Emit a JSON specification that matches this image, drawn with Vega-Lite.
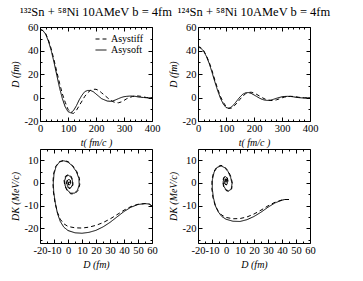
{
  "$schema": "https://vega.github.io/schema/vega-lite/v6.json",
  "padding": {"left": 9, "top": 5, "right": 5, "bottom": 5},
  "background": "white",
  "columns": 2,
  "spacing": {"row": 28, "column": 46},
  "bounds": "flush",
  "config": {
    "font": "Liberation Serif",
    "view": {"stroke": "black", "strokeWidth": 1},
    "axis": {"domain": false, "grid": false, "tickColor": "black", "tickSize": -4, "labelColor": "black", "labelFont": "Liberation Serif", "labelFontSize": 10.5, "labelPadding": 6, "labelFlush": false, "labelOverlap": false, "labelExpr": "'' + datum.value", "titleFont": "Liberation Serif", "titleFontStyle": "italic", "titleFontWeight": "normal", "titleFontSize": 10, "titleColor": "black"},
    "title": {"font": "Liberation Serif", "fontSize": 12.5, "fontWeight": "normal", "color": "black", "offset": 4},
    "legend": {"title": null, "symbolType": "stroke", "symbolStrokeColor": "black", "symbolStrokeWidth": 1, "symbolSize": 120, "labelFont": "Liberation Serif", "labelFontSize": 10, "labelColor": "black", "rowPadding": 0, "labelOffset": 4},
    "line": {"color": "black", "strokeWidth": 1}
  },
  "datasets": {
    "tl": [
      {"t":0,"D":58,"m":"Asysoft"},{"t":10,"D":57,"m":"Asysoft"},{"t":20,"D":54,"m":"Asysoft"},{"t":30,"D":48,"m":"Asysoft"},{"t":40,"D":40,"m":"Asysoft"},{"t":50,"D":30,"m":"Asysoft"},{"t":60,"D":19,"m":"Asysoft"},{"t":70,"D":8,"m":"Asysoft"},{"t":80,"D":-1,"m":"Asysoft"},{"t":90,"D":-8,"m":"Asysoft"},{"t":100,"D":-12,"m":"Asysoft"},{"t":110,"D":-13,"m":"Asysoft"},{"t":120,"D":-11,"m":"Asysoft"},{"t":130,"D":-7,"m":"Asysoft"},{"t":140,"D":-2,"m":"Asysoft"},{"t":150,"D":2,"m":"Asysoft"},{"t":160,"D":5,"m":"Asysoft"},{"t":170,"D":6,"m":"Asysoft"},{"t":180,"D":6,"m":"Asysoft"},{"t":190,"D":5,"m":"Asysoft"},{"t":200,"D":3,"m":"Asysoft"},{"t":210,"D":1,"m":"Asysoft"},{"t":220,"D":-1,"m":"Asysoft"},{"t":230,"D":-2,"m":"Asysoft"},{"t":240,"D":-3,"m":"Asysoft"},{"t":250,"D":-3.2,"m":"Asysoft"},{"t":260,"D":-3,"m":"Asysoft"},{"t":270,"D":-2,"m":"Asysoft"},{"t":280,"D":-1,"m":"Asysoft"},{"t":290,"D":0,"m":"Asysoft"},{"t":300,"D":0.7,"m":"Asysoft"},{"t":310,"D":1,"m":"Asysoft"},{"t":320,"D":1.2,"m":"Asysoft"},{"t":330,"D":1.2,"m":"Asysoft"},{"t":340,"D":1,"m":"Asysoft"},{"t":350,"D":0.5,"m":"Asysoft"},{"t":360,"D":0.2,"m":"Asysoft"},{"t":370,"D":0,"m":"Asysoft"},{"t":380,"D":-0.2,"m":"Asysoft"},{"t":390,"D":-0.3,"m":"Asysoft"},{"t":400,"D":-0.2,"m":"Asysoft"},
      {"t":0,"D":58,"m":"Asystiff"},{"t":10,"D":57,"m":"Asystiff"},{"t":20,"D":54.5,"m":"Asystiff"},{"t":30,"D":49,"m":"Asystiff"},{"t":40,"D":41.5,"m":"Asystiff"},{"t":50,"D":32,"m":"Asystiff"},{"t":60,"D":22,"m":"Asystiff"},{"t":70,"D":12,"m":"Asystiff"},{"t":80,"D":3,"m":"Asystiff"},{"t":90,"D":-4,"m":"Asystiff"},{"t":100,"D":-10,"m":"Asystiff"},{"t":110,"D":-13,"m":"Asystiff"},{"t":120,"D":-13.5,"m":"Asystiff"},{"t":130,"D":-11,"m":"Asystiff"},{"t":140,"D":-7,"m":"Asystiff"},{"t":150,"D":-3,"m":"Asystiff"},{"t":160,"D":1,"m":"Asystiff"},{"t":170,"D":4,"m":"Asystiff"},{"t":180,"D":6,"m":"Asystiff"},{"t":190,"D":7,"m":"Asystiff"},{"t":200,"D":7,"m":"Asystiff"},{"t":210,"D":6,"m":"Asystiff"},{"t":220,"D":4,"m":"Asystiff"},{"t":230,"D":2,"m":"Asystiff"},{"t":240,"D":0,"m":"Asystiff"},{"t":250,"D":-2,"m":"Asystiff"},{"t":260,"D":-3.5,"m":"Asystiff"},{"t":270,"D":-4.3,"m":"Asystiff"},{"t":280,"D":-4.5,"m":"Asystiff"},{"t":290,"D":-3.8,"m":"Asystiff"},{"t":300,"D":-2.5,"m":"Asystiff"},{"t":310,"D":-1,"m":"Asystiff"},{"t":320,"D":0,"m":"Asystiff"},{"t":330,"D":0.8,"m":"Asystiff"},{"t":340,"D":1.3,"m":"Asystiff"},{"t":350,"D":1.3,"m":"Asystiff"},{"t":360,"D":1,"m":"Asystiff"},{"t":370,"D":0.5,"m":"Asystiff"},{"t":380,"D":0,"m":"Asystiff"},{"t":390,"D":-0.3,"m":"Asystiff"},{"t":400,"D":-0.4,"m":"Asystiff"}
    ],
    "tr": [
      {"t":0,"D":43,"m":"Asysoft"},{"t":10,"D":42,"m":"Asysoft"},{"t":20,"D":39.5,"m":"Asysoft"},{"t":30,"D":35,"m":"Asysoft"},{"t":40,"D":29,"m":"Asysoft"},{"t":50,"D":21.5,"m":"Asysoft"},{"t":60,"D":13.5,"m":"Asysoft"},{"t":70,"D":6,"m":"Asysoft"},{"t":80,"D":-0.5,"m":"Asysoft"},{"t":90,"D":-5.5,"m":"Asysoft"},{"t":100,"D":-8.5,"m":"Asysoft"},{"t":110,"D":-9.2,"m":"Asysoft"},{"t":120,"D":-8,"m":"Asysoft"},{"t":130,"D":-5.5,"m":"Asysoft"},{"t":140,"D":-2.5,"m":"Asysoft"},{"t":150,"D":0.5,"m":"Asysoft"},{"t":160,"D":2.8,"m":"Asysoft"},{"t":170,"D":4,"m":"Asysoft"},{"t":180,"D":4.2,"m":"Asysoft"},{"t":190,"D":3.5,"m":"Asysoft"},{"t":200,"D":2.2,"m":"Asysoft"},{"t":210,"D":0.8,"m":"Asysoft"},{"t":220,"D":-0.6,"m":"Asysoft"},{"t":230,"D":-1.7,"m":"Asysoft"},{"t":240,"D":-2.3,"m":"Asysoft"},{"t":250,"D":-2.5,"m":"Asysoft"},{"t":260,"D":-2.2,"m":"Asysoft"},{"t":270,"D":-1.5,"m":"Asysoft"},{"t":280,"D":-0.7,"m":"Asysoft"},{"t":290,"D":0,"m":"Asysoft"},{"t":300,"D":0.6,"m":"Asysoft"},{"t":310,"D":0.9,"m":"Asysoft"},{"t":320,"D":1,"m":"Asysoft"},{"t":330,"D":0.9,"m":"Asysoft"},{"t":340,"D":0.6,"m":"Asysoft"},{"t":350,"D":0.2,"m":"Asysoft"},{"t":360,"D":-0.1,"m":"Asysoft"},{"t":370,"D":-0.3,"m":"Asysoft"},{"t":380,"D":-0.4,"m":"Asysoft"},{"t":390,"D":-0.3,"m":"Asysoft"},{"t":400,"D":-0.2,"m":"Asysoft"},
      {"t":0,"D":43.5,"m":"Asystiff"},{"t":10,"D":42.5,"m":"Asystiff"},{"t":20,"D":40,"m":"Asystiff"},{"t":30,"D":35.5,"m":"Asystiff"},{"t":40,"D":30,"m":"Asystiff"},{"t":50,"D":23,"m":"Asystiff"},{"t":60,"D":15,"m":"Asystiff"},{"t":70,"D":7.5,"m":"Asystiff"},{"t":80,"D":1,"m":"Asystiff"},{"t":90,"D":-4,"m":"Asystiff"},{"t":100,"D":-7.5,"m":"Asystiff"},{"t":110,"D":-9.3,"m":"Asystiff"},{"t":120,"D":-9,"m":"Asystiff"},{"t":130,"D":-7,"m":"Asystiff"},{"t":140,"D":-4.5,"m":"Asystiff"},{"t":150,"D":-1.5,"m":"Asystiff"},{"t":160,"D":1.2,"m":"Asystiff"},{"t":170,"D":3.2,"m":"Asystiff"},{"t":180,"D":4.3,"m":"Asystiff"},{"t":190,"D":4.5,"m":"Asystiff"},{"t":200,"D":3.8,"m":"Asystiff"},{"t":210,"D":2.6,"m":"Asystiff"},{"t":220,"D":1.2,"m":"Asystiff"},{"t":230,"D":-0.2,"m":"Asystiff"},{"t":240,"D":-1.4,"m":"Asystiff"},{"t":250,"D":-2.2,"m":"Asystiff"},{"t":260,"D":-2.6,"m":"Asystiff"},{"t":270,"D":-2.5,"m":"Asystiff"},{"t":280,"D":-2,"m":"Asystiff"},{"t":290,"D":-1.2,"m":"Asystiff"},{"t":300,"D":-0.3,"m":"Asystiff"},{"t":310,"D":0.4,"m":"Asystiff"},{"t":320,"D":0.8,"m":"Asystiff"},{"t":330,"D":1,"m":"Asystiff"},{"t":340,"D":0.9,"m":"Asystiff"},{"t":350,"D":0.6,"m":"Asystiff"},{"t":360,"D":0.2,"m":"Asystiff"},{"t":370,"D":-0.1,"m":"Asystiff"},{"t":380,"D":-0.3,"m":"Asystiff"},{"t":390,"D":-0.4,"m":"Asystiff"},{"t":400,"D":-0.3,"m":"Asystiff"}
    ],
    "bl": [
      {"i":1,"D":60,"K":-10.2,"m":"Asysoft"},{"i":2,"D":58,"K":-9.3,"m":"Asysoft"},{"i":3,"D":55,"K":-9.1,"m":"Asysoft"},{"i":4,"D":50,"K":-9.5,"m":"Asysoft"},{"i":5,"D":45,"K":-10.7,"m":"Asysoft"},{"i":6,"D":40,"K":-12.6,"m":"Asysoft"},{"i":7,"D":35,"K":-15,"m":"Asysoft"},{"i":8,"D":30,"K":-17.4,"m":"Asysoft"},{"i":9,"D":25,"K":-19.4,"m":"Asysoft"},{"i":10,"D":20,"K":-20.9,"m":"Asysoft"},{"i":11,"D":15,"K":-21.8,"m":"Asysoft"},{"i":12,"D":10,"K":-22.2,"m":"Asysoft"},{"i":13,"D":5,"K":-22,"m":"Asysoft"},{"i":14,"D":0,"K":-21,"m":"Asysoft"},{"i":15,"D":-3,"K":-19.5,"m":"Asysoft"},{"i":16,"D":-5.5,"K":-17,"m":"Asysoft"},{"i":17,"D":-7.5,"K":-13.5,"m":"Asysoft"},{"i":18,"D":-9,"K":-9,"m":"Asysoft"},{"i":19,"D":-10.2,"K":-4,"m":"Asysoft"},{"i":20,"D":-10.5,"K":0,"m":"Asysoft"},{"i":21,"D":-10,"K":4,"m":"Asysoft"},{"i":22,"D":-8.5,"K":7.3,"m":"Asysoft"},{"i":23,"D":-6,"K":9.3,"m":"Asysoft"},{"i":24,"D":-3,"K":9.8,"m":"Asysoft"},{"i":25,"D":0,"K":9.2,"m":"Asysoft"},{"i":26,"D":3,"K":7.6,"m":"Asysoft"},{"i":27,"D":6,"K":5,"m":"Asysoft"},{"i":28,"D":7.8,"K":2,"m":"Asysoft"},{"i":29,"D":8,"K":-0.8,"m":"Asysoft"},{"i":30,"D":6.8,"K":-3.2,"m":"Asysoft"},{"i":31,"D":4.5,"K":-4.5,"m":"Asysoft"},{"i":32,"D":2,"K":-4.5,"m":"Asysoft"},{"i":33,"D":-0.3,"K":-3.3,"m":"Asysoft"},{"i":34,"D":-2,"K":-1.3,"m":"Asysoft"},{"i":35,"D":-2.4,"K":1,"m":"Asysoft"},{"i":36,"D":-1.5,"K":2.8,"m":"Asysoft"},{"i":37,"D":0.2,"K":3.4,"m":"Asysoft"},{"i":38,"D":2,"K":2.7,"m":"Asysoft"},{"i":39,"D":3.2,"K":1,"m":"Asysoft"},{"i":40,"D":3.2,"K":-0.8,"m":"Asysoft"},{"i":41,"D":2.2,"K":-2,"m":"Asysoft"},{"i":42,"D":0.8,"K":-2.2,"m":"Asysoft"},{"i":43,"D":-0.4,"K":-1.3,"m":"Asysoft"},{"i":44,"D":-0.8,"K":0,"m":"Asysoft"},{"i":45,"D":-0.3,"K":1.2,"m":"Asysoft"},{"i":46,"D":0.7,"K":1.6,"m":"Asysoft"},{"i":47,"D":1.6,"K":1,"m":"Asysoft"},{"i":48,"D":1.8,"K":-0.1,"m":"Asysoft"},{"i":49,"D":1.2,"K":-0.8,"m":"Asysoft"},{"i":50,"D":0.5,"K":-0.7,"m":"Asysoft"},{"i":51,"D":0.3,"K":0,"m":"Asysoft"},{"i":52,"D":0.8,"K":0.5,"m":"Asysoft"},{"i":53,"D":1.2,"K":0.1,"m":"Asysoft"},
      {"i":1,"D":60,"K":-10.2,"m":"Asystiff"},{"i":2,"D":58,"K":-9.3,"m":"Asystiff"},{"i":3,"D":55,"K":-9.1,"m":"Asystiff"},{"i":4,"D":50,"K":-9.4,"m":"Asystiff"},{"i":5,"D":45,"K":-10.4,"m":"Asystiff"},{"i":6,"D":40,"K":-12,"m":"Asystiff"},{"i":7,"D":35,"K":-14,"m":"Asystiff"},{"i":8,"D":30,"K":-15.9,"m":"Asystiff"},{"i":9,"D":25,"K":-17.5,"m":"Asystiff"},{"i":10,"D":20,"K":-18.7,"m":"Asystiff"},{"i":11,"D":15,"K":-19.5,"m":"Asystiff"},{"i":12,"D":10,"K":-19.9,"m":"Asystiff"},{"i":13,"D":5,"K":-19.8,"m":"Asystiff"},{"i":14,"D":0,"K":-19.2,"m":"Asystiff"},{"i":15,"D":-3,"K":-18,"m":"Asystiff"},{"i":16,"D":-5.5,"K":-16,"m":"Asystiff"},{"i":17,"D":-7.5,"K":-13,"m":"Asystiff"},{"i":18,"D":-9.2,"K":-9,"m":"Asystiff"},{"i":19,"D":-10.4,"K":-4,"m":"Asystiff"},{"i":20,"D":-10.8,"K":0,"m":"Asystiff"},{"i":21,"D":-10.3,"K":4,"m":"Asystiff"},{"i":22,"D":-8.8,"K":7.3,"m":"Asystiff"},{"i":23,"D":-6.2,"K":9.4,"m":"Asystiff"},{"i":24,"D":-3,"K":10,"m":"Asystiff"},{"i":25,"D":0.2,"K":9.4,"m":"Asystiff"},{"i":26,"D":3.3,"K":7.7,"m":"Asystiff"},{"i":27,"D":6.3,"K":5,"m":"Asystiff"},{"i":28,"D":8.2,"K":2,"m":"Asystiff"},{"i":29,"D":8.4,"K":-0.8,"m":"Asystiff"},{"i":30,"D":7.2,"K":-3.3,"m":"Asystiff"},{"i":31,"D":4.8,"K":-4.8,"m":"Asystiff"},{"i":32,"D":2,"K":-4.8,"m":"Asystiff"},{"i":33,"D":-0.5,"K":-3.5,"m":"Asystiff"},{"i":34,"D":-2.3,"K":-1.3,"m":"Asystiff"},{"i":35,"D":-2.8,"K":1.1,"m":"Asystiff"},{"i":36,"D":-1.8,"K":3,"m":"Asystiff"},{"i":37,"D":0.2,"K":3.7,"m":"Asystiff"},{"i":38,"D":2.2,"K":3,"m":"Asystiff"},{"i":39,"D":3.5,"K":1.1,"m":"Asystiff"},{"i":40,"D":3.5,"K":-0.9,"m":"Asystiff"},{"i":41,"D":2.4,"K":-2.2,"m":"Asystiff"},{"i":42,"D":0.8,"K":-2.5,"m":"Asystiff"},{"i":43,"D":-0.6,"K":-1.5,"m":"Asystiff"},{"i":44,"D":-1.1,"K":0,"m":"Asystiff"},{"i":45,"D":-0.5,"K":1.4,"m":"Asystiff"},{"i":46,"D":0.7,"K":1.8,"m":"Asystiff"},{"i":47,"D":1.8,"K":1.1,"m":"Asystiff"},{"i":48,"D":2,"K":-0.1,"m":"Asystiff"},{"i":49,"D":1.3,"K":-1,"m":"Asystiff"},{"i":50,"D":0.4,"K":-0.9,"m":"Asystiff"},{"i":51,"D":0.1,"K":0,"m":"Asystiff"},{"i":52,"D":0.7,"K":0.6,"m":"Asystiff"},{"i":53,"D":1.2,"K":0.1,"m":"Asystiff"}
    ],
    "br": [
      {"i":1,"D":45,"K":-7.3,"m":"Asysoft"},{"i":2,"D":42,"K":-7.3,"m":"Asysoft"},{"i":3,"D":40,"K":-7.6,"m":"Asysoft"},{"i":4,"D":35,"K":-8.8,"m":"Asysoft"},{"i":5,"D":30,"K":-10.7,"m":"Asysoft"},{"i":6,"D":25,"K":-12.9,"m":"Asysoft"},{"i":7,"D":20,"K":-14.8,"m":"Asysoft"},{"i":8,"D":15,"K":-16.2,"m":"Asysoft"},{"i":9,"D":10,"K":-17,"m":"Asysoft"},{"i":10,"D":5,"K":-16.9,"m":"Asysoft"},{"i":11,"D":0,"K":-16,"m":"Asysoft"},{"i":12,"D":-3,"K":-14.8,"m":"Asysoft"},{"i":13,"D":-5.5,"K":-12.8,"m":"Asysoft"},{"i":14,"D":-7.5,"K":-10.2,"m":"Asysoft"},{"i":15,"D":-9,"K":-6.5,"m":"Asysoft"},{"i":16,"D":-9.8,"K":-2.5,"m":"Asysoft"},{"i":17,"D":-9.7,"K":1.5,"m":"Asysoft"},{"i":18,"D":-8.5,"K":4.8,"m":"Asysoft"},{"i":19,"D":-6.3,"K":6.9,"m":"Asysoft"},{"i":20,"D":-3.5,"K":7.5,"m":"Asysoft"},{"i":21,"D":-1,"K":6.8,"m":"Asysoft"},{"i":22,"D":1.5,"K":5,"m":"Asysoft"},{"i":23,"D":3.3,"K":2.5,"m":"Asysoft"},{"i":24,"D":4.3,"K":-0.3,"m":"Asysoft"},{"i":25,"D":3.8,"K":-2.5,"m":"Asysoft"},{"i":26,"D":2,"K":-3.5,"m":"Asysoft"},{"i":27,"D":0,"K":-3,"m":"Asysoft"},{"i":28,"D":-1.5,"K":-1.5,"m":"Asysoft"},{"i":29,"D":-2,"K":0.5,"m":"Asysoft"},{"i":30,"D":-1.5,"K":2.2,"m":"Asysoft"},{"i":31,"D":-0.3,"K":2.8,"m":"Asysoft"},{"i":32,"D":0.8,"K":2.2,"m":"Asysoft"},{"i":33,"D":1.2,"K":0.8,"m":"Asysoft"},{"i":34,"D":0.8,"K":-0.5,"m":"Asysoft"},{"i":35,"D":0,"K":-0.8,"m":"Asysoft"},{"i":36,"D":-0.8,"K":-0.2,"m":"Asysoft"},{"i":37,"D":-1,"K":0.8,"m":"Asysoft"},{"i":38,"D":-0.5,"K":1.6,"m":"Asysoft"},{"i":39,"D":0.3,"K":1.6,"m":"Asysoft"},{"i":40,"D":0.6,"K":0.9,"m":"Asysoft"},{"i":41,"D":0.2,"K":0.3,"m":"Asysoft"},{"i":42,"D":-0.4,"K":0.6,"m":"Asysoft"},{"i":43,"D":-0.2,"K":1.2,"m":"Asysoft"},{"i":44,"D":0.2,"K":1,"m":"Asysoft"},
      {"i":1,"D":45,"K":-7.3,"m":"Asystiff"},{"i":2,"D":42,"K":-7.3,"m":"Asystiff"},{"i":3,"D":40,"K":-7.5,"m":"Asystiff"},{"i":4,"D":35,"K":-8.5,"m":"Asystiff"},{"i":5,"D":30,"K":-10.1,"m":"Asystiff"},{"i":6,"D":25,"K":-12,"m":"Asystiff"},{"i":7,"D":20,"K":-13.7,"m":"Asystiff"},{"i":8,"D":15,"K":-15,"m":"Asystiff"},{"i":9,"D":10,"K":-15.7,"m":"Asystiff"},{"i":10,"D":5,"K":-15.8,"m":"Asystiff"},{"i":11,"D":0,"K":-15.2,"m":"Asystiff"},{"i":12,"D":-3,"K":-14.2,"m":"Asystiff"},{"i":13,"D":-5.5,"K":-12.5,"m":"Asystiff"},{"i":14,"D":-7.7,"K":-10,"m":"Asystiff"},{"i":15,"D":-9.3,"K":-6.5,"m":"Asystiff"},{"i":16,"D":-10.1,"K":-2.5,"m":"Asystiff"},{"i":17,"D":-10,"K":1.5,"m":"Asystiff"},{"i":18,"D":-8.8,"K":4.9,"m":"Asystiff"},{"i":19,"D":-6.5,"K":7.1,"m":"Asystiff"},{"i":20,"D":-3.6,"K":7.8,"m":"Asystiff"},{"i":21,"D":-0.9,"K":7.1,"m":"Asystiff"},{"i":22,"D":1.7,"K":5.2,"m":"Asystiff"},{"i":23,"D":3.6,"K":2.6,"m":"Asystiff"},{"i":24,"D":4.6,"K":-0.3,"m":"Asystiff"},{"i":25,"D":4,"K":-2.7,"m":"Asystiff"},{"i":26,"D":2.1,"K":-3.8,"m":"Asystiff"},{"i":27,"D":0,"K":-3.3,"m":"Asystiff"},{"i":28,"D":-1.7,"K":-1.7,"m":"Asystiff"},{"i":29,"D":-2.3,"K":0.5,"m":"Asystiff"},{"i":30,"D":-1.7,"K":2.4,"m":"Asystiff"},{"i":31,"D":-0.3,"K":3,"m":"Asystiff"},{"i":32,"D":0.9,"K":2.4,"m":"Asystiff"},{"i":33,"D":1.4,"K":0.9,"m":"Asystiff"},{"i":34,"D":0.9,"K":-0.6,"m":"Asystiff"},{"i":35,"D":0,"K":-0.9,"m":"Asystiff"},{"i":36,"D":-0.9,"K":-0.2,"m":"Asystiff"},{"i":37,"D":-1.1,"K":0.9,"m":"Asystiff"},{"i":38,"D":-0.6,"K":1.7,"m":"Asystiff"},{"i":39,"D":0.3,"K":1.7,"m":"Asystiff"},{"i":40,"D":0.7,"K":1,"m":"Asystiff"},{"i":41,"D":0.2,"K":0.3,"m":"Asystiff"},{"i":42,"D":-0.4,"K":0.6,"m":"Asystiff"},{"i":43,"D":-0.2,"K":1.2,"m":"Asystiff"},{"i":44,"D":0.2,"K":1,"m":"Asystiff"}
    ]
  },
  "concat": [
    {
      "title": "¹³²Sn + ⁵⁸Ni  10AMeV  b = 4fm",
      "width": 112, "height": 94,
      "data": {"name": "tl"},
      "resolve": {"axis": {"x": "independent", "y": "independent"}},
      "layer": [
        {"mark": {"type": "line"},
         "encoding": {
           "x": {"field": "t", "type": "quantitative", "scale": {"domain": [0, 400], "nice": false}, "axis": {"orient": "bottom", "values": [0, 100, 200, 300, 400], "title": "t( fm/c )"}},
           "y": {"field": "D", "type": "quantitative", "scale": {"domain": [-20, 60], "nice": false}, "axis": {"orient": "left", "values": [-20, 0, 20, 40, 60], "title": "D (fm)"}},
           "strokeDash": {"field": "m", "type": "nominal", "scale": {"domain": ["Asystiff", "Asysoft"], "range": [[4, 3], [1, 0]]}, "legend": {"orient": "none", "legendX": 55, "legendY": 6}}
         }},
        {"mark": {"type": "line", "strokeOpacity": 0},
         "encoding": {"detail": {"field": "m"},
           "x": {"field": "t", "type": "quantitative", "axis": {"orient": "top", "values": [0, 100, 200, 300, 400], "labels": false, "title": null}},
           "y": {"field": "D", "type": "quantitative", "axis": {"orient": "right", "values": [-20, 0, 20, 40, 60], "labels": false, "title": null}}}},
        {"mark": {"type": "line", "strokeOpacity": 0},
         "encoding": {"detail": {"field": "m"},
           "x": {"field": "t", "type": "quantitative", "axis": {"orient": "bottom", "values": [20, 40, 60, 80, 120, 140, 160, 180, 220, 240, 260, 280, 320, 340, 360, 380], "labels": false, "title": null, "tickSize": -2}},
           "y": {"field": "D", "type": "quantitative", "axis": {"orient": "left", "values": [-10, 10, 30, 50], "labels": false, "title": null, "tickSize": -2}}}},
        {"mark": {"type": "line", "strokeOpacity": 0},
         "encoding": {"detail": {"field": "m"},
           "x": {"field": "t", "type": "quantitative", "axis": {"orient": "top", "values": [20, 40, 60, 80, 120, 140, 160, 180, 220, 240, 260, 280, 320, 340, 360, 380], "labels": false, "title": null, "tickSize": -2}},
           "y": {"field": "D", "type": "quantitative", "axis": {"orient": "right", "values": [-10, 10, 30, 50], "labels": false, "title": null, "tickSize": -2}}}}
      ]
    },
    {
      "title": "¹²⁴Sn + ⁵⁸Ni  10AMeV  b = 4fm",
      "width": 112, "height": 94,
      "data": {"name": "tr"},
      "resolve": {"axis": {"x": "independent", "y": "independent"}},
      "layer": [
        {"mark": {"type": "line"},
         "encoding": {
           "x": {"field": "t", "type": "quantitative", "scale": {"domain": [0, 400], "nice": false}, "axis": {"orient": "bottom", "values": [0, 100, 200, 300, 400], "title": "t( fm/c )"}},
           "y": {"field": "D", "type": "quantitative", "scale": {"domain": [-20, 60], "nice": false}, "axis": {"orient": "left", "values": [-20, 0, 20, 40, 60], "title": "D (fm)"}},
           "strokeDash": {"field": "m", "type": "nominal", "scale": {"domain": ["Asystiff", "Asysoft"], "range": [[4, 3], [1, 0]]}, "legend": {"orient": "none", "legendX": 55, "legendY": 6}}
         }},
        {"mark": {"type": "line", "strokeOpacity": 0},
         "encoding": {"detail": {"field": "m"},
           "x": {"field": "t", "type": "quantitative", "axis": {"orient": "top", "values": [0, 100, 200, 300, 400], "labels": false, "title": null}},
           "y": {"field": "D", "type": "quantitative", "axis": {"orient": "right", "values": [-20, 0, 20, 40, 60], "labels": false, "title": null}}}},
        {"mark": {"type": "line", "strokeOpacity": 0},
         "encoding": {"detail": {"field": "m"},
           "x": {"field": "t", "type": "quantitative", "axis": {"orient": "bottom", "values": [20, 40, 60, 80, 120, 140, 160, 180, 220, 240, 260, 280, 320, 340, 360, 380], "labels": false, "title": null, "tickSize": -2}},
           "y": {"field": "D", "type": "quantitative", "axis": {"orient": "left", "values": [-10, 10, 30, 50], "labels": false, "title": null, "tickSize": -2}}}},
        {"mark": {"type": "line", "strokeOpacity": 0},
         "encoding": {"detail": {"field": "m"},
           "x": {"field": "t", "type": "quantitative", "axis": {"orient": "top", "values": [20, 40, 60, 80, 120, 140, 160, 180, 220, 240, 260, 280, 320, 340, 360, 380], "labels": false, "title": null, "tickSize": -2}},
           "y": {"field": "D", "type": "quantitative", "axis": {"orient": "right", "values": [-10, 10, 30, 50], "labels": false, "title": null, "tickSize": -2}}}}
      ]
    },
    {
      "width": 112, "height": 94,
      "data": {"name": "bl"},
      "resolve": {"axis": {"x": "independent", "y": "independent"}},
      "layer": [
        {"mark": {"type": "line"},
         "encoding": {
           "x": {"field": "D", "type": "quantitative", "scale": {"domain": [-20, 60], "nice": false, "zero": false}, "axis": {"orient": "bottom", "values": [-20, -10, 0, 10, 20, 30, 40, 50, 60], "title": "D (fm)"}},
           "y": {"field": "K", "type": "quantitative", "scale": {"domain": [-26.5, 15], "nice": false, "zero": false}, "axis": {"orient": "left", "values": [-20, -10, 0, 10], "title": "DK (MeV/c)"}},
           "order": {"field": "i", "type": "quantitative"},
           "strokeDash": {"field": "m", "type": "nominal", "scale": {"domain": ["Asystiff", "Asysoft"], "range": [[4, 3], [1, 0]]}, "legend": null}
         }},
        {"mark": {"type": "line", "strokeOpacity": 0},
         "encoding": {"detail": {"field": "m"},
           "x": {"field": "D", "type": "quantitative", "axis": {"orient": "top", "values": [-20, -10, 0, 10, 20, 30, 40, 50, 60], "labels": false, "title": null}},
           "y": {"field": "K", "type": "quantitative", "axis": {"orient": "right", "values": [-20, -10, 0, 10], "labels": false, "title": null}}}},
        {"mark": {"type": "line", "strokeOpacity": 0},
         "encoding": {"detail": {"field": "m"},
           "x": {"field": "D", "type": "quantitative", "axis": {"orient": "bottom", "values": [-15, -5, 5, 15, 25, 35, 45, 55], "labels": false, "title": null, "tickSize": -2}},
           "y": {"field": "K", "type": "quantitative", "axis": {"orient": "left", "values": [-25, -15, -5, 5], "labels": false, "title": null, "tickSize": -2}}}},
        {"mark": {"type": "line", "strokeOpacity": 0},
         "encoding": {"detail": {"field": "m"},
           "x": {"field": "D", "type": "quantitative", "axis": {"orient": "top", "values": [-15, -5, 5, 15, 25, 35, 45, 55], "labels": false, "title": null, "tickSize": -2}},
           "y": {"field": "K", "type": "quantitative", "axis": {"orient": "right", "values": [-25, -15, -5, 5], "labels": false, "title": null, "tickSize": -2}}}}
      ]
    },
    {
      "width": 112, "height": 94,
      "data": {"name": "br"},
      "resolve": {"axis": {"x": "independent", "y": "independent"}},
      "layer": [
        {"mark": {"type": "line"},
         "encoding": {
           "x": {"field": "D", "type": "quantitative", "scale": {"domain": [-20, 60], "nice": false, "zero": false}, "axis": {"orient": "bottom", "values": [-20, -10, 0, 10, 20, 30, 40, 50, 60], "title": "D (fm)"}},
           "y": {"field": "K", "type": "quantitative", "scale": {"domain": [-26.5, 15], "nice": false, "zero": false}, "axis": {"orient": "left", "values": [-20, -10, 0, 10], "title": "DK (MeV/c)"}},
           "order": {"field": "i", "type": "quantitative"},
           "strokeDash": {"field": "m", "type": "nominal", "scale": {"domain": ["Asystiff", "Asysoft"], "range": [[4, 3], [1, 0]]}, "legend": null}
         }},
        {"mark": {"type": "line", "strokeOpacity": 0},
         "encoding": {"detail": {"field": "m"},
           "x": {"field": "D", "type": "quantitative", "axis": {"orient": "top", "values": [-20, -10, 0, 10, 20, 30, 40, 50, 60], "labels": false, "title": null}},
           "y": {"field": "K", "type": "quantitative", "axis": {"orient": "right", "values": [-20, -10, 0, 10], "labels": false, "title": null}}}},
        {"mark": {"type": "line", "strokeOpacity": 0},
         "encoding": {"detail": {"field": "m"},
           "x": {"field": "D", "type": "quantitative", "axis": {"orient": "bottom", "values": [-15, -5, 5, 15, 25, 35, 45, 55], "labels": false, "title": null, "tickSize": -2}},
           "y": {"field": "K", "type": "quantitative", "axis": {"orient": "left", "values": [-25, -15, -5, 5], "labels": false, "title": null, "tickSize": -2}}}},
        {"mark": {"type": "line", "strokeOpacity": 0},
         "encoding": {"detail": {"field": "m"},
           "x": {"field": "D", "type": "quantitative", "axis": {"orient": "top", "values": [-15, -5, 5, 15, 25, 35, 45, 55], "labels": false, "title": null, "tickSize": -2}},
           "y": {"field": "K", "type": "quantitative", "axis": {"orient": "right", "values": [-25, -15, -5, 5], "labels": false, "title": null, "tickSize": -2}}}}
      ]
    }
  ]
}
